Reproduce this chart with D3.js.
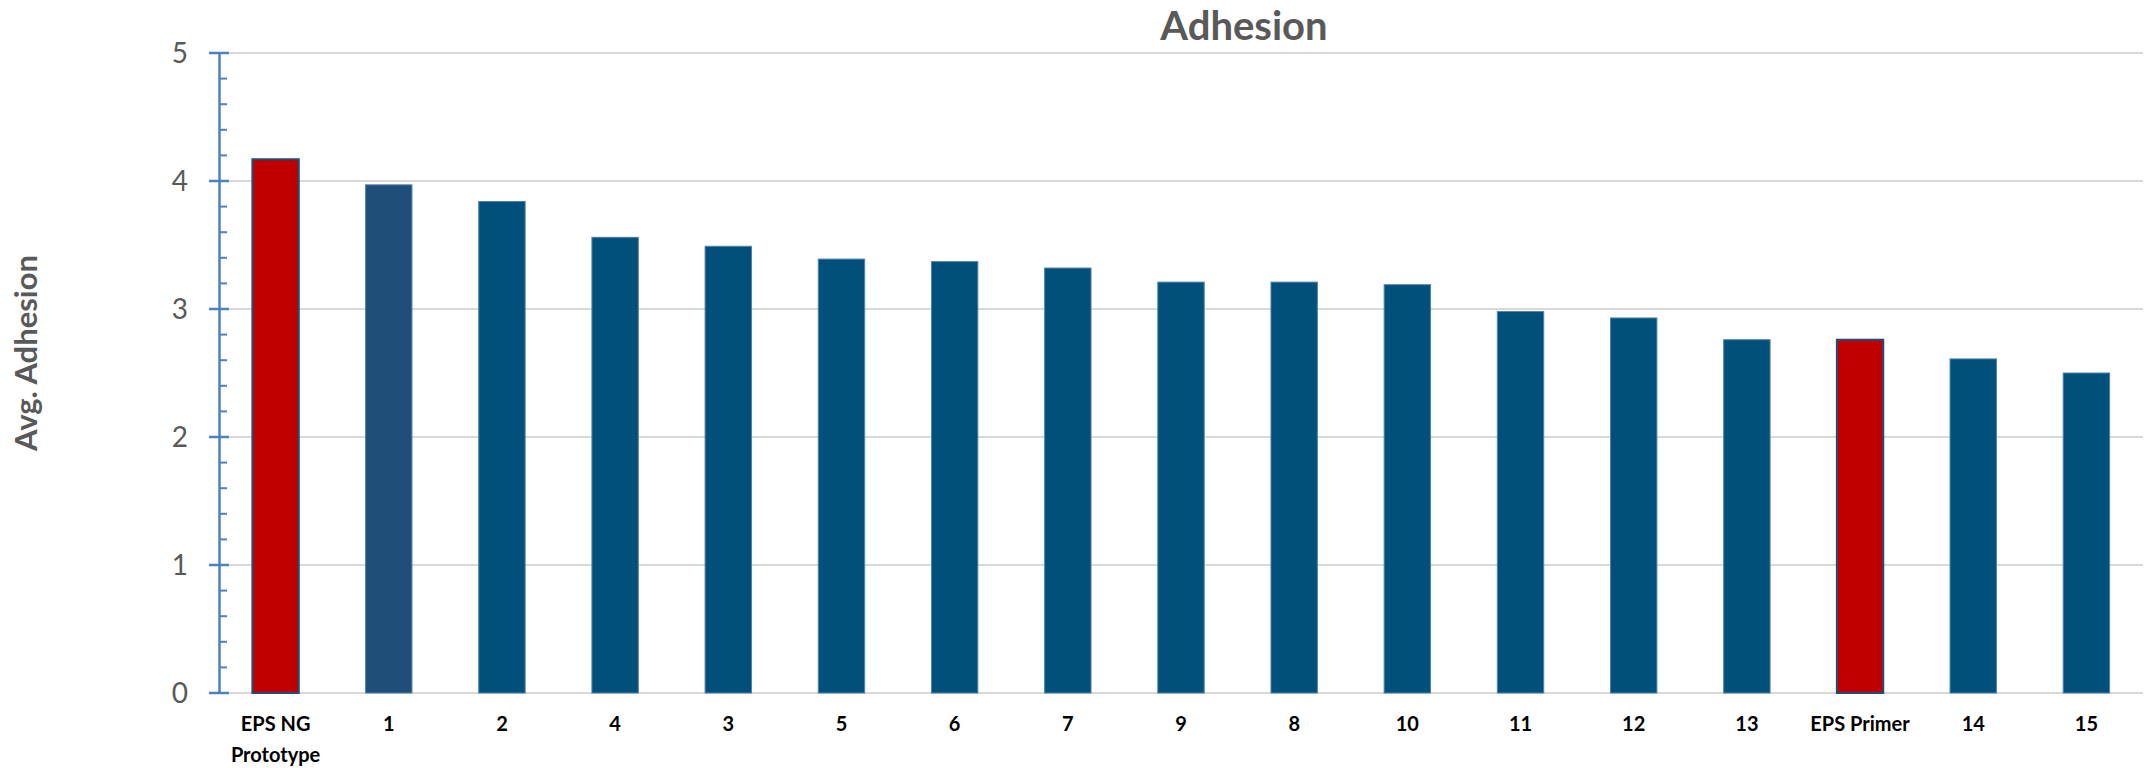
<!DOCTYPE html>
<html>
<head>
<meta charset="utf-8">
<script src="https://cdn.jsdelivr.net/npm/d3@7"></script>
<style>
  html, body { margin: 0; padding: 0; background: #fff; }
  svg { display: block; }
  text { font-family: Lato, "Open Sans", sans-serif; }
</style>
</head>
<body>
<script>
// ---- data ----
const categories = ["EPS NG\nPrototype", "1", "2", "4", "3", "5", "6", "7", "9", "8", "10", "11", "12", "13", "EPS Primer", "14", "15"];
const values = [4.17, 3.97, 3.84, 3.56, 3.49, 3.39, 3.37, 3.32, 3.21, 3.21, 3.19, 2.98, 2.93, 2.76, 2.76, 2.61, 2.50];
const yTicks = [0, 1, 2, 3, 4, 5];
const chartTitle = "Adhesion";
const yTitle = "Avg. Adhesion";

// ---- layout / style ----
const W = 2146, H = 768;
const plot = { left: 219, right: 2143, top: 53, bottom: 693 };
const blue = "#00507B", darkBlue = "#1F4E79", red = "#C00000";

const svg = d3.select("body").append("svg").attr("width", W).attr("height", H);

const x = d3.scaleBand().domain(categories).range([plot.left, plot.right])
  .paddingInner(0.59).paddingOuter(0.295);
const y = d3.scaleLinear().domain([0, 5]).range([plot.bottom, plot.top]);

// gridlines
svg.append("g").selectAll("line").data(yTicks).join("line")
  .attr("x1", plot.left).attr("x2", plot.right)
  .attr("y1", d => y(d)).attr("y2", d => y(d))
  .attr("stroke", "#D9D9D9").attr("stroke-width", 2);

// bars
const data = categories.map((c, i) => ({ c, v: values[i], i }));
svg.append("g").selectAll("rect").data(data).join("rect")
  .attr("x", d => x(d.c))
  .attr("width", x.bandwidth())
  .attr("y", d => y(d.v))
  .attr("height", d => y(0) - y(d.v))
  .attr("fill", d => d.c.startsWith("EPS") ? red : (d.i === 1 ? darkBlue : blue))
  .attr("stroke", d => d.c.startsWith("EPS") ? darkBlue : "#4f82ad")
  .attr("stroke-width", d => d.c.startsWith("EPS") ? 2 : 1);

// y axis with minor ticks
const axisColor = "#4F81C0";
const yAxis = d3.axisLeft(y).tickValues(yTicks).tickSize(0).tickFormat("");
const gy = svg.append("g").attr("transform", `translate(${plot.left},0)`).call(yAxis);
gy.select(".domain").attr("stroke", axisColor).attr("stroke-width", 2.5);
const minor = d3.range(0, 5.0001, 0.2).filter(v => Math.abs(v - Math.round(v)) > 1e-6);
gy.append("g").selectAll("line").data(minor).join("line")
  .attr("x1", 0).attr("x2", 8).attr("y1", d => y(d)).attr("y2", d => y(d))
  .attr("stroke", axisColor).attr("stroke-width", 2);
gy.append("g").selectAll("line").data(yTicks).join("line")
  .attr("x1", -10).attr("x2", 10).attr("y1", d => y(d)).attr("y2", d => y(d))
  .attr("stroke", axisColor).attr("stroke-width", 2.5);

// y tick labels
svg.append("g").selectAll("text").data(yTicks).join("text")
  .attr("x", 188).attr("y", d => y(d) + 10)
  .attr("text-anchor", "end")
  .attr("font-size", 28).attr("fill", "#595959")
  .text(d => d);

// x labels
const xl = svg.append("g").selectAll("text").data(categories).join("text")
  .attr("text-anchor", "middle")
  .attr("font-size", 20).attr("font-weight", "bold").attr("fill", "#000")
  .attr("transform", d => `translate(${x(d) + x.bandwidth() / 2},731)`);
xl.selectAll("tspan").data(d => d.split("\n")).join("tspan")
  .attr("x", 0).attr("y", (d, i) => i * 31).text(d => d);

// title
svg.append("text").attr("x", 1244).attr("y", 40)
  .attr("text-anchor", "middle").attr("font-size", 40).attr("font-weight", "bold")
  .attr("fill", "#595959").text(chartTitle);

// y title
svg.append("text").attr("transform", "translate(37,353) rotate(-90)")
  .attr("text-anchor", "middle").attr("font-size", 31).attr("font-weight", "bold")
  .attr("fill", "#595959").text(yTitle);
</script>
</body>
</html>
